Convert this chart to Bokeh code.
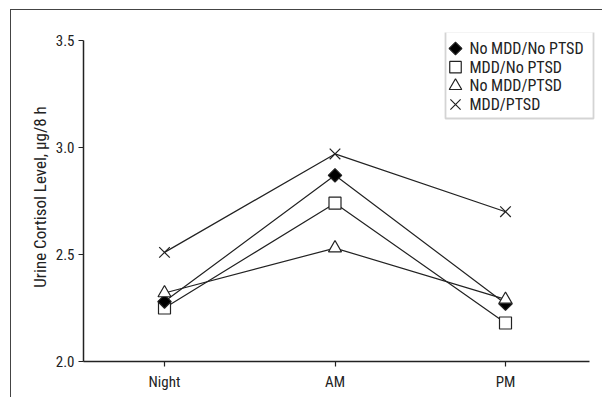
import math
from bokeh.plotting import figure
from bokeh.models import FixedTicker, Range1d, BoxAnnotation
from bokeh.core.properties import value
from bokeh.embed import file_html
from bokeh.resources import INLINE

categories = ["Night", "AM", "PM"]
no_mdd_no_ptsd = [2.28, 2.87, 2.27]
mdd_no_ptsd = [2.25, 2.74, 2.18]
no_mdd_ptsd = [2.32, 2.53, 2.29]
mdd_ptsd = [2.51, 2.97, 2.70]
y_ticks = [2.0, 2.5, 3.0, 3.5]
series_names = ["No MDD/No PTSD", "MDD/No PTSD", "No MDD/PTSD", "MDD/PTSD"]

FONT = "'Liberation Sans Narrow', 'Roboto Condensed', Roboto, sans-serif"
INK = "#222222"

xs = list(range(len(categories)))

# layout (pixels)
CX, CY = 11, 10            # canvas origin on the page (after css margin+border)
W, H = 592, 388
ML, MR, MT, MB = 72, 8, 22, 37
FW, FH = W - ML - MR, H - MT - MB
FX0, FY0 = CX + ML, CY + MT  # frame top-left on page
X0 = -81 / 170.5
X1 = X0 + FW / 170.5
Y0, Y1 = 2.0, 2.0 + FH / 214.0

p = figure(width=W, height=H, output_backend="svg", toolbar_location=None,
           x_range=Range1d(X0, X1), y_range=Range1d(Y0, Y1),
           min_border_left=ML, min_border_right=MR, min_border_top=MT, min_border_bottom=MB)
p.styles = {"margin-left": "10px", "margin-top": "9px",
            "border-left": "1px solid #444", "border-top": "1px solid #444"}
p.outline_line_color = None
p.grid.visible = False


def fx(px):  # page pixel -> data x
    return X0 + (X1 - X0) * (px - FX0) / FW


def fy(py):  # page pixel -> data y
    return Y1 - (Y1 - Y0) * (py - FY0) / FH


styles = [
    dict(marker="square", fill="black", size=9.5, angle=math.pi / 4),
    dict(marker="square", fill="white", size=12, angle=0.0),
    dict(marker="triangle", fill="white", size=13, angle=0.0),
    dict(marker="x", fill="black", size=15, angle=0.0),
]
data = [no_mdd_no_ptsd, mdd_no_ptsd, no_mdd_ptsd, mdd_ptsd]

for vals in data:
    p.line(xs, vals, line_color=INK, line_width=1.2)
for i in [1, 0, 2, 3]:
    s = styles[i]
    p.scatter(xs, data[i], marker=s["marker"], size=s["size"], angle=s["angle"],
              fill_color=s["fill"], line_color=INK, line_width=1.2)

# legend (drawn manually so that the markers keep their size)
p.add_layout(BoxAnnotation(left=fx(445), right=fx(593), top=fy(31), bottom=fy(118), level="underlay",
                           fill_color="white", fill_alpha=1, line_color="#707070", line_width=1.8))
row_py = [48, 66.7, 85.4, 104]
for i, name in enumerate(series_names):
    s = styles[i]
    yy = fy(row_py[i])
    p.scatter([fx(455)], [yy], marker=s["marker"], size=s["size"] - 0.5, angle=s["angle"],
              fill_color=s["fill"], line_color=INK, line_width=1.2)
    p.text([fx(469)], [yy], text=[name], text_font=value(FONT), text_font_size="16px",
           text_baseline="middle", text_align="left", text_color=INK)

for ax in (p.xaxis[0], p.yaxis[0]):
    ax.axis_line_color = INK
    ax.axis_line_width = 1.5
    ax.major_tick_line_color = INK
    ax.major_tick_line_width = 1.2
    ax.major_tick_out = 5
    ax.major_tick_in = 0
    ax.minor_tick_line_color = None
    ax.major_label_text_font = FONT
    ax.major_label_text_font_size = "15px"
    ax.major_label_text_color = INK

p.xaxis.ticker = FixedTicker(ticks=xs)
p.xaxis.major_label_overrides = {i: c for i, c in enumerate(categories)}
p.xaxis.major_label_standoff = 6
p.xaxis.bounds = (X0, fx(589))
p.yaxis.ticker = FixedTicker(ticks=y_ticks)
p.yaxis.major_label_overrides = {t: f"{t:.1f}" for t in y_ticks}
p.yaxis.major_label_standoff = 4
p.yaxis.bounds = (2.0, 3.5)
p.yaxis.axis_label = "Urine Cortisol Level, µg/8 h"
p.yaxis.axis_label_text_font = FONT
p.yaxis.axis_label_text_font_size = "17px"
p.yaxis.axis_label_text_font_style = "normal"
p.yaxis.axis_label_text_color = INK
p.yaxis.axis_label_standoff = 3

open("out.html", "w").write(file_html(p, INLINE))
